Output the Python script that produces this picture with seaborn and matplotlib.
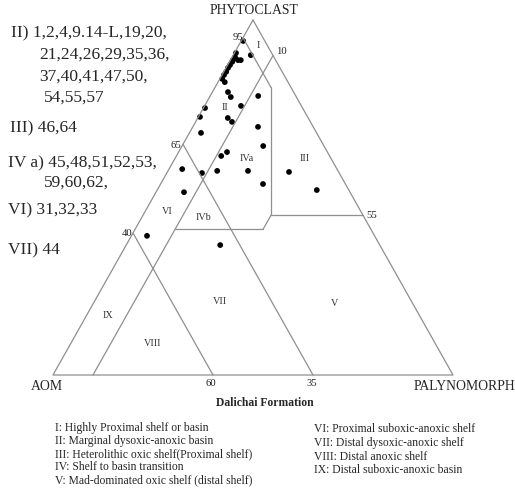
import numpy as np
import pandas as pd
import matplotlib
matplotlib.use("Agg")
import matplotlib.pyplot as plt
import seaborn as sns

# ---------------- data (percent) ----------------
phytoclast = [94.1, 90.1, 90.7, 89.6, 88.7, 88.7, 88.7, 88.2, 87.3, 86.5, 85.4, 84.5,
              83.4, 82.5, 79.7, 78.3, 78.6, 75.2, 75.8, 72.7, 72.4, 71.3, 69.9, 68.2,
              64.5, 62.8, 61.7, 58.0, 56.9, 57.5, 57.5, 53.8, 51.5, 57.2, 52.1, 39.2, 36.6]
palynomorph = [0.5, 4.4, 0.4, 0.7, 0.6, 1.9, 2.6, 0.7, 0.6, 0.5, 0.6, 0.5,
               0.6, 1.7, 3.9, 5.3, 12.0, 0.4, 9.1, 0.4, 7.5, 9.1, 16.3, 2.9,
               20.3, 12.1, 11.2, 3.3, 8.8, 12.3, 20.0, 25.6, 7.0, 30.4, 39.9, 3.9, 23.5]

# field boundaries as (phytoclast %, palynomorph %) segments
boundary_segments = [
    [(95, 0), (81, 14)],
    [(81, 14), (45, 32)],
    [(45, 32), (45, 55)],
    [(45, 32), (41, 32)],
    [(41, 32), (41, 10)],
    [(90, 10), (0, 10)],
    [(65, 0), (0, 65)],
    [(40, 0), (0, 40)],
]
outline = [(100, 0), (0, 0), (0, 100), (100, 0)]

left_notes = ["II) 1,2,4,9.14-L,19,20,", "21,24,26,29,35,36,", "37,40,41,47,50,",
              "54,55,57", "III) 46,64", "IV a) 45,48,51,52,53,", "59,60,62,",
              "VI) 31,32,33", "VII) 44"]
legend_left = ["I: Highly Proximal shelf or basin", "II: Marginal dysoxic-anoxic basin",
               "III: Heterolithic oxic shelf(Proximal shelf)", "IV: Shelf to basin transition",
               "V: Mad-dominated oxic shelf (distal shelf)"]
legend_right = ["VI: Proximal suboxic-anoxic shelf", "VII: Distal dysoxic-anoxic shelf",
                "VIII: Distal anoxic shelf", "IX: Distal suboxic-anoxic basin"]
region_names = ["I", "II", "III", "IVa", "IVb", "V", "VI", "VII", "VIII", "IX"]
edge_values = ["95", "10", "65", "40", "55", "60", "35"]

# ---------------- helpers ----------------
def to_xy(p, m):
    p = np.asarray(p, float) / 100.0
    m = np.asarray(m, float) / 100.0
    return m + p / 2.0, p

W, H = 515, 491
sns.set_style("white")
plt.rcParams['font.family'] = ['Liberation Serif', 'DejaVu Serif']

fig = plt.figure(figsize=(W / 100, H / 100), dpi=100)
ax = fig.add_axes([53 / W, (H - 375) / H, 400 / W, 355 / H])
ax.set_xlim(0, 1)
ax.set_ylim(0, 1)
ax.axis('off')

def ft(x, y, s, **kw):
    fig.text(x / W, 1 - y / H, s, **kw)

line_col = '#8f8f8f'
ox, oy = to_xy([p for p, m in outline], [m for p, m in outline])
ax.plot(ox, oy, color=line_col, lw=0.9, clip_on=False)
for seg in boundary_segments:
    sx, sy = to_xy([p for p, m in seg], [m for p, m in seg])
    ax.plot(sx, sy, color=line_col, lw=0.9, clip_on=False)

px, py = to_xy(phytoclast, palynomorph)
df = pd.DataFrame({"x": px, "y": py})
sns.scatterplot(data=df, x="x", y="y", ax=ax, color='black', s=17,
                edgecolor='none', clip_on=False, legend=False)
ax.set_xlabel('')
ax.set_ylabel('')

# corner labels
ft(254, 11, "PHYTOCLAST", fontsize=9.9, ha='center', va='center')
ft(47, 387, "AOM", fontsize=9.9, ha='center', va='center')
ft(464, 387, "PALYNOMORPH", fontsize=9.9, ha='center', va='center')
ft(265, 403, "Dalichai Formation", fontsize=8.4, fontweight='bold', ha='center', va='center')

# edge values
vpos = [(243, 37, 'right'), (276, 51, 'left'), (181, 145, 'right'), (132, 234, 'right'),
        (366, 215, 'left'), (211, 384, 'center'), (312, 383, 'center')]
for s, (x, y, ha) in zip(edge_values, vpos):
    ft(x, y, s, fontsize=7.7, ha=ha, va='center', color='#222222')

# region labels
rpos = [(258, 45), (225, 108), (305, 159), (247, 159), (203, 218), (335, 303),
        (167, 211), (220, 301), (153, 343), (108, 315)]
for s, (x, y) in zip(region_names, rpos):
    ft(x, y, s, fontsize=7.3, ha='center', va='center', color='#333333')

# left notes
npos = [(11, 33), (39, 55), (39, 77), (44, 98), (10, 128), (8, 163), (44, 183),
        (8, 210), (8, 250)]
for s, (x, y) in zip(left_notes, npos):
    ft(x, y, s, fontsize=12.5, ha='left', va='center')

# legend
for i, s in enumerate(legend_left):
    ft(55, 427.5 + i * 13.2, s, fontsize=8.4, ha='left', va='center')
for i, s in enumerate(legend_right):
    ft(314, 429.5 + i * 13.5, s, fontsize=8.4, ha='left', va='center')

fig.savefig("out.png", dpi=100)
